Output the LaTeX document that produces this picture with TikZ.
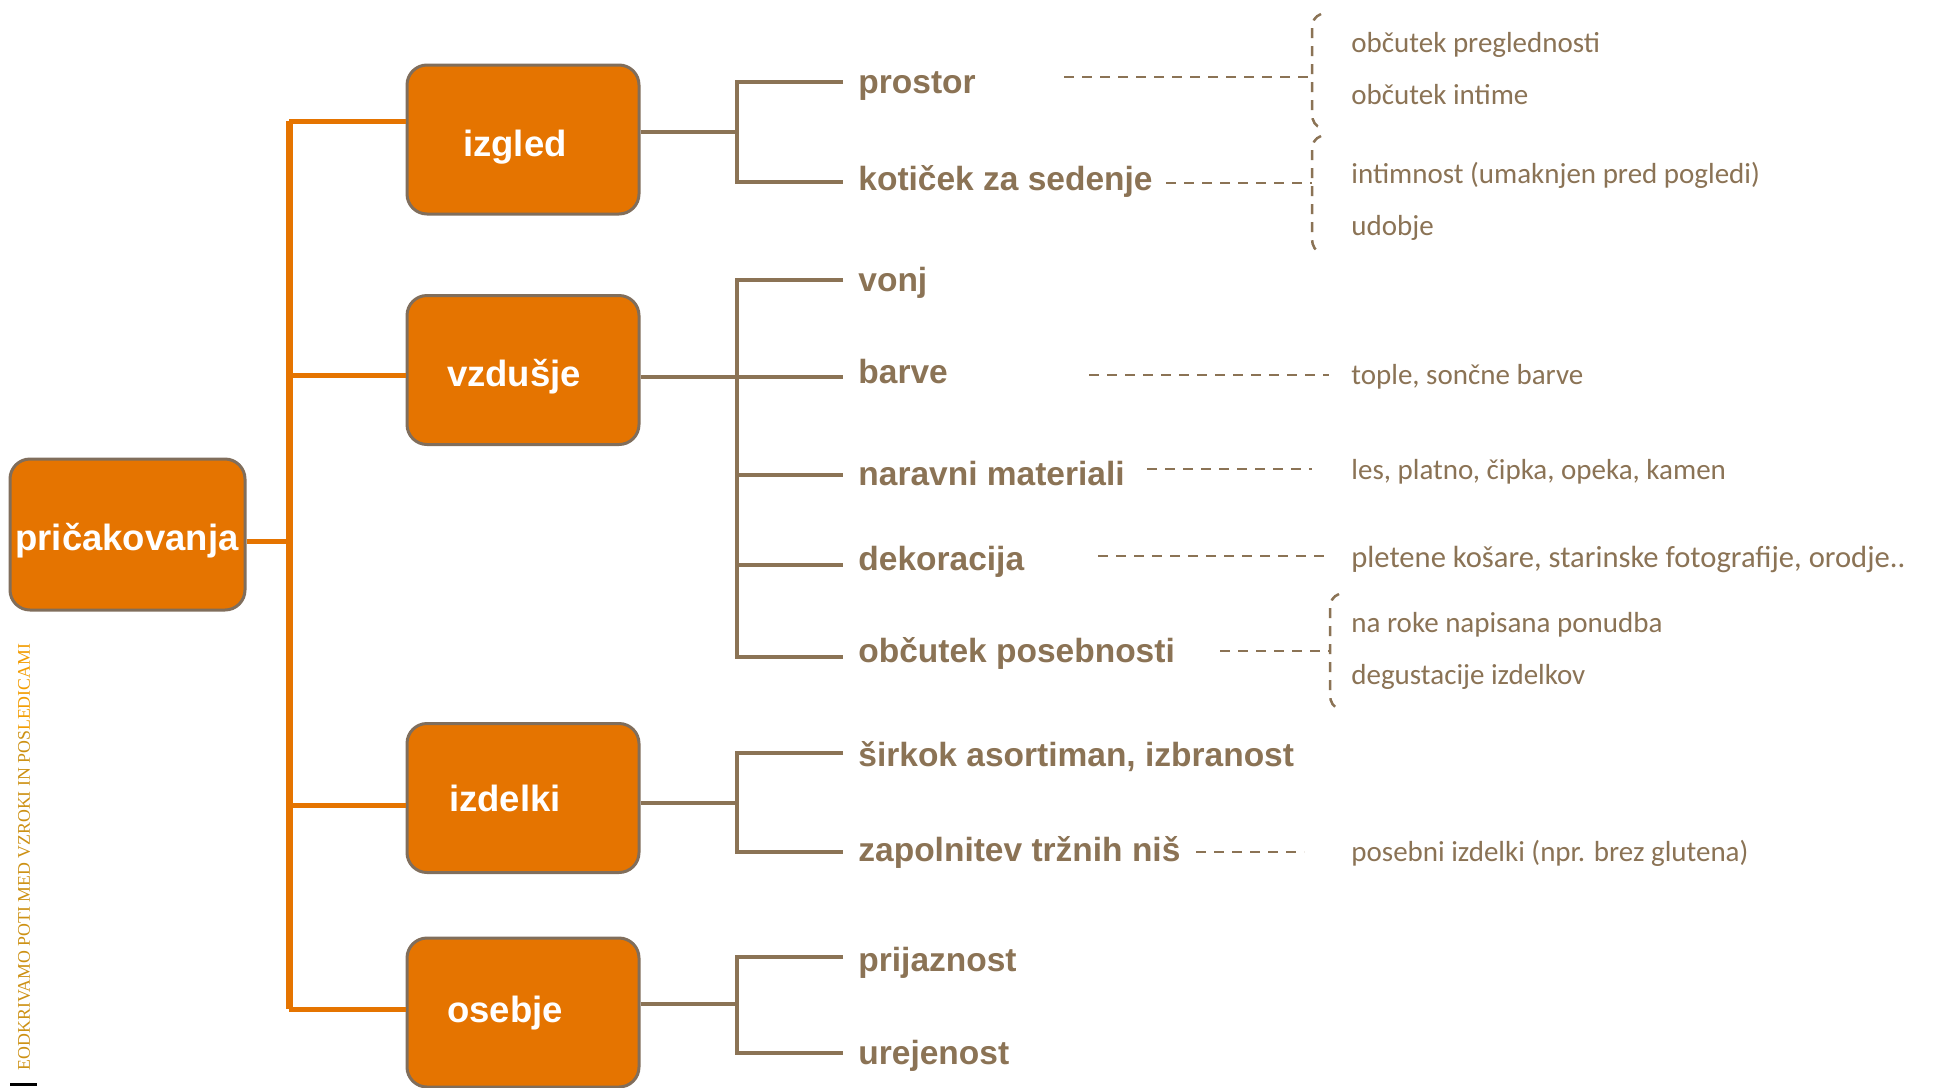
\documentclass[tikz,border=0pt]{standalone}
\usepackage{fontspec}
\setmainfont{Liberation Sans}
\newfontfamily\calib{Carlito}
\newfontfamily\serv{Liberation Serif}
\definecolor{org}{RGB}{229,116,0}
\definecolor{brn}{RGB}{139,115,85}
\definecolor{bord}{RGB}{128,110,92}
\definecolor{goldA}{RGB}{205,145,20}
\definecolor{goldB}{RGB}{242,156,0}
\begin{document}
\begin{tikzpicture}[x=0.5pt,y=-0.5pt,
  box/.style={draw=bord, line width=1.5pt, fill=org, rounded corners=10pt, minimum width=116pt, minimum height=74.5pt, inner sep=0pt},
  boxtxt/.style={text=white, font=\fontsize{18.25}{20}\selectfont\bfseries, inner sep=0pt, yshift=-2pt},
  lbl/.style={text=brn, font=\fontsize{16.75}{19}\selectfont\bfseries, inner sep=0pt, anchor=west, text height=12.5pt, text depth=3.4pt, yshift=-1.5pt},
  rtxt/.style={text=brn, font=\calib\fontsize{14.5}{17}\selectfont, inner sep=0pt, anchor=west, text height=10pt, text depth=3pt, yshift=-1.5pt},
  orl/.style={draw=org, line width=2.5pt},
  trunkl/.style={draw=org, line width=3.5pt},
  brl/.style={draw=brn, line width=2pt},
  dsh/.style={draw=brn, line width=1.25pt, dash pattern=on 5pt off 4pt}
]
\clip (0,0) rectangle (1936,1087);
\fill[white] (0,0) rectangle (1936,1087);

% ---------- boxes ----------
\node[box, minimum width=117.5pt, minimum height=75.5pt] (root) at (127.5,534.5) {};
\node[boxtxt] (roottxt) at (127,537) {pričakovanja};
\node[box] (izgled) at (523,139.5) {};
\node[boxtxt] (izgledtxt) at (515,143) {izgled};
\node[box] (vzdusje) at (523,370) {};
\node[boxtxt] (vzdusjetxt) at (514,373) {vzdušje};
\node[box] (izdelki) at (523,798) {};
\node[boxtxt] (izdelkitxt) at (505,794) {izdelki};
\node[box] (osebje) at (523,1012.5) {};
\node[boxtxt] (osebjetxt) at (505,1009) {osebje};

% ---------- orange tree ----------
\coordinate (t1) at (289,121);
\coordinate (t2) at (289,375);
\coordinate (t3) at (289,805);
\coordinate (t4) at (289,1009);
\coordinate (tr) at (289,541);
\draw[trunkl] (t1) -- (t4);
\draw[orl] (root.east |- tr) -- (tr);
\draw[orl] (t1) -- (t1 -| izgled.west);
\draw[orl] (t2) -- (t2 -| vzdusje.west);
\draw[orl] (t3) -- (t3 -| izdelki.west);
\draw[orl] (t4) -- (t4 -| osebje.west);

% ---------- level 2 labels ----------
\node[lbl] (prostor) at (858,81.5) {prostor};
\node[lbl] (koticek) at (858,178) {kotiček za sedenje};
\node[lbl] (vonj) at (858,279) {vonj};
\node[lbl] (barve) at (858,371) {barve};
\node[lbl] (naravni) at (858,473) {naravni materiali};
\node[lbl] (dekor) at (858,558) {dekoracija};
\node[lbl] (posebn) at (858,650) {občutek posebnosti};
\node[lbl] (sirok) at (858,754) {širkok asortiman, izbranost};
\node[lbl] (zapol) at (858,849) {zapolnitev tržnih niš};
\node[lbl] (prijaz) at (858,959) {prijaznost};
\node[lbl] (urej) at (858,1052) {urejenost};

% branch ends
\coordinate (eprostor) at (843,82);
\coordinate (ekoticek) at (843,182);
\coordinate (evonj) at (843,280);
\coordinate (ebarve) at (843,377);
\coordinate (enaravni) at (843,475);
\coordinate (edekor) at (843,565);
\coordinate (eposebn) at (843,657);
\coordinate (esirok) at (843,753);
\coordinate (ezapol) at (843,852);
\coordinate (eprijaz) at (843,957);
\coordinate (eurej) at (843,1053);
% bar joints
\coordinate (b1) at (737,132);
\coordinate (b2) at (737,377);
\coordinate (b3) at (737,803);
\coordinate (b4) at (737,1004);

% izgled group
\draw[brl] (izgled.east |- b1) -- (b1);
\draw[brl] (eprostor) -- (eprostor -| b1) -- (ekoticek -| b1) -- (ekoticek);
% vzdusje group
\draw[brl] (vzdusje.east |- b2) -- (b2);
\draw[brl] (evonj) -- (evonj -| b2) -- (eposebn -| b2) -- (eposebn);
\draw[brl] (ebarve -| b2) -- (ebarve);
\draw[brl] (enaravni -| b2) -- (enaravni);
\draw[brl] (edekor -| b2) -- (edekor);
% izdelki group
\draw[brl] (izdelki.east |- b3) -- (b3);
\draw[brl] (esirok) -- (esirok -| b3) -- (ezapol -| b3) -- (ezapol);
% osebje group
\draw[brl] (osebje.east |- b4) -- (b4);
\draw[brl] (eprijaz) -- (eprijaz -| b4) -- (eurej -| b4) -- (eurej);

% ---------- right column texts ----------
\node[rtxt] (r1) at (1351,42) {občutek preglednosti};
\node[rtxt] (r2) at (1351,94) {občutek intime};
\node[rtxt] (r3) at (1351,173) {intimnost (umaknjen pred pogledi)};
\node[rtxt] (r4) at (1351,225) {udobje};
\node[rtxt] (r5) at (1351,374) {tople, sončne barve};
\node[rtxt] (r6) at (1351,469) {les, platno, čipka, opeka, kamen};
\node[rtxt, font=\calib\fontsize{15.3}{18}\selectfont] (r7) at (1351,557) {pletene košare, starinske fotografije, orodje..};
\node[rtxt] (r8) at (1351,622) {na roke napisana ponudba};
\node[rtxt] (r9) at (1351,674) {degustacije izdelkov};
\node[rtxt] (r10) at (1351,851) {posebni izdelki (npr. brez glutena)};

% ---------- brackets ----------
\coordinate (k1a) at (1321,14);
\coordinate (k1b) at (1322,128);
\coordinate (k2a) at (1321,136);
\coordinate (k2b) at (1322,253);
\coordinate (k3a) at (1339,594);
\coordinate (k3b) at (1340,709);
\draw[dsh] (k1a) to[out=200,in=90] (1312,28) -- (1312,114) to[out=-90,in=170] (k1b);
\draw[dsh] (k2a) to[out=200,in=90] (1312,150) -- (1312,239) to[out=-90,in=170] (k2b);
\draw[dsh] (k3a) to[out=200,in=90] (1330,608) -- (1330,695) to[out=-90,in=170] (k3b);

% ---------- dashed connectors ----------
\coordinate (d1a) at (1064,77);   \coordinate (d1b) at (1312,77);
\coordinate (d2a) at (1166,183);  \coordinate (d2b) at (1312,183);
\coordinate (d3a) at (1089,375);  \coordinate (d3b) at (1329,375);
\coordinate (d4a) at (1147,469);  \coordinate (d4b) at (1312,469);
\coordinate (d5a) at (1098,556);  \coordinate (d5b) at (1324,556);
\coordinate (d6a) at (1220,651);  \coordinate (d6b) at (1330,651);
\coordinate (d7a) at (1196,852);  \coordinate (d7b) at (1304,852);
\draw[dsh] (d1a) -- (d1b);
\draw[dsh] (d2a) -- (d2b);
\draw[dsh] (d3a) -- (d3b);
\draw[dsh] (d4a) -- (d4b);
\draw[dsh] (d5a) -- (d5b);
\draw[dsh] (d6a) -- (d6b);
\draw[dsh] (d7a) -- (d7b);

% ---------- side text ----------
\node[rotate=90, inner sep=0pt, font=\serv\fontsize{8.9}{10}\selectfont] (side) at (24,857)
  {{\color{goldA}EODKRIVAMO POTI MED VZROKI IN POS}{\color{goldB}LEDICAMI}};
\draw[black, line width=1.5pt] (10,1084) -- (37,1084);
\end{tikzpicture}
\end{document}
